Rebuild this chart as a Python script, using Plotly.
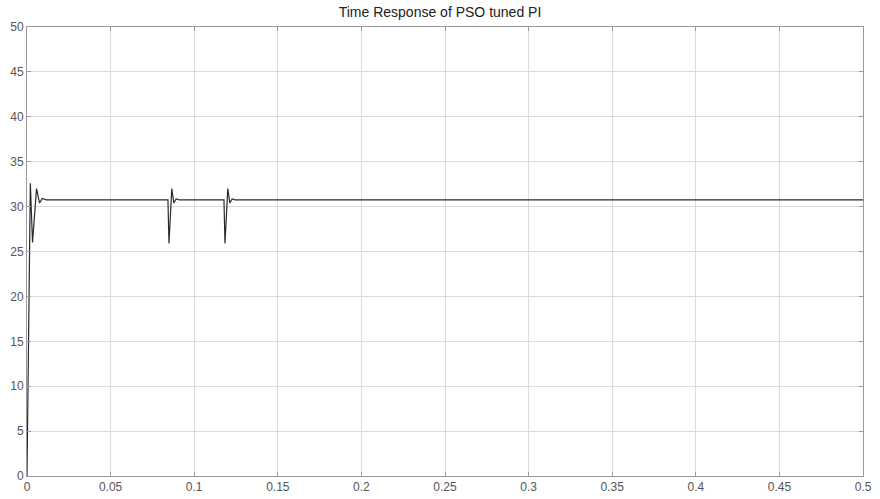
import plotly.graph_objects as go

# Simulated output of the PSO-tuned PI loop (time in s, response value)
time_s = [0.0, 0.0020, 0.0033, 0.0045, 0.0057, 0.0075, 0.0092, 0.0115,
          0.0843, 0.0849, 0.0857, 0.0866, 0.0878, 0.0892, 0.0910,
          0.1178, 0.1184, 0.1192, 0.1201, 0.1213, 0.1227, 0.1245,
          0.5]
response = [0.0, 32.6, 26.0, 29.5, 32.0, 30.4, 30.9, 30.75,
            30.75, 25.9, 29.5, 32.0, 30.4, 30.85, 30.75,
            30.75, 25.9, 29.5, 32.0, 30.4, 30.85, 30.75,
            30.75]

x_ticks = [0, 0.05, 0.1, 0.15, 0.2, 0.25, 0.3, 0.35, 0.4, 0.45, 0.5]
x_tick_text = ["0", "0.05", "0.1", "0.15", "0.2", "0.25", "0.3", "0.35", "0.4", "0.45", "0.5"]
y_ticks = [0, 5, 10, 15, 20, 25, 30, 35, 40, 45, 50]

fig = go.Figure()
fig.add_trace(go.Scatter(
    x=time_s, y=response, mode="lines",
    line=dict(color="#2a2a2a", width=1.2),
    showlegend=False,
))

axis_common = dict(
    showgrid=True, gridcolor="#dcdcdc", gridwidth=1,
    showline=True, linecolor="#9a9a9a", linewidth=1, mirror="ticks",
    ticks="inside", ticklen=4, tickcolor="#9a9a9a",
    zeroline=False, automargin=False,
    tickfont=dict(family="Liberation Sans, Arial, sans-serif", size=12, color="#555555"),
)

fig.update_layout(
    width=880, height=499,
    margin=dict(l=27, r=17, t=27, b=23),
    paper_bgcolor="white", plot_bgcolor="white",
    title=dict(
        text="Time Response of PSO tuned PI",
        x=0.5, xanchor="center", y=0.975, yanchor="middle",
        font=dict(family="Liberation Sans, Arial, sans-serif", size=14, color="#222222"),
    ),
    xaxis=dict(range=[0, 0.5], tickvals=x_ticks, ticktext=x_tick_text, **axis_common),
    yaxis=dict(range=[0, 50], tickvals=y_ticks, **axis_common),
)

fig.write_html("out.html")
